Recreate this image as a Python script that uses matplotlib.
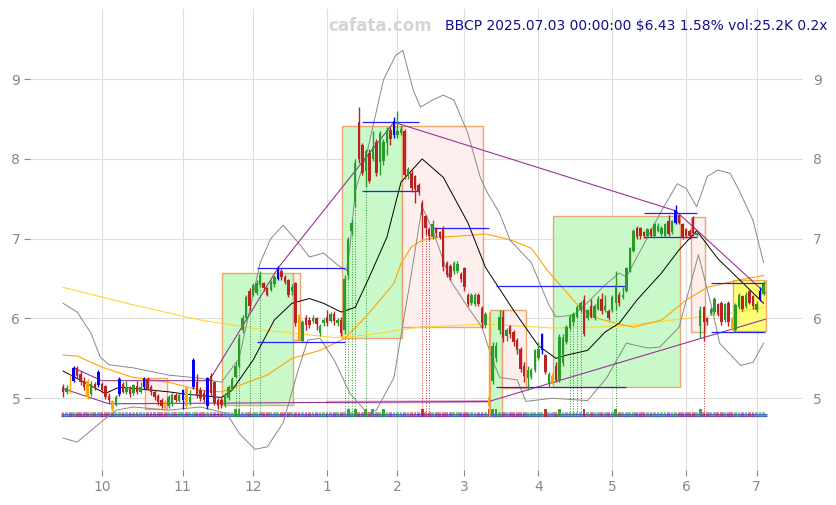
import numpy as np
import pandas as pd
import matplotlib
matplotlib.use('Agg')
import matplotlib.pyplot as plt
from matplotlib.patches import Rectangle

# trading days, Sep 16 2024 .. Jul 3 2025
holidays = ['2024-11-28', '2024-12-25', '2025-01-01', '2025-01-09', '2025-01-20',
            '2025-02-17', '2025-04-18', '2025-05-26', '2025-06-19']
dates = pd.bdate_range('2024-09-16', '2025-07-03')
dates = dates[~dates.isin(pd.to_datetime(holidays))]

# daily OHLC
opens = [5.14, 5.08, 5.12, 5.22, 5.38, 5.30, 5.22, 5.21, 5.05, 5.18,
         5.16, 5.18, 5.15, 5.03, 4.96, 4.92, 5.05, 5.18, 5.08, 5.12,
         5.06, 5.15, 5.08, 5.14, 5.24, 5.14, 5.08, 5.03, 4.98, 4.95,
         4.90, 4.93, 5.04, 4.97, 4.98, 5.13, 4.95, 5.14, 5.20, 5.10,
         5.06, 4.90, 5.28, 5.20, 4.98, 4.98, 4.91, 5.00, 5.12, 5.27,
         5.40, 5.85, 6.00, 6.35, 6.30, 6.32, 6.42, 6.44, 6.38, 6.36,
         6.43, 6.50, 6.60, 6.52, 6.48, 6.34, 6.44, 6.04, 5.72, 6.00,
         5.98, 5.97, 6.00, 5.82, 5.94, 6.02, 5.97, 6.06, 5.94, 5.98,
         5.85, 6.55, 7.10, 7.46, 8.46, 8.17, 7.85, 8.07, 8.00, 8.21,
         7.96, 7.98, 8.20, 8.36, 8.30, 8.30, 8.32, 8.35, 7.80, 7.83,
         7.78, 7.67, 7.45, 7.28, 7.12, 7.02, 7.13, 7.08, 7.14, 6.70,
         6.66, 6.60, 6.60, 6.56, 6.63, 6.30, 6.20, 6.18, 6.30, 6.13,
         5.92, 5.01, 5.22, 5.50, 5.85, 6.02, 5.78, 5.90, 5.83, 5.73,
         5.62, 5.40, 5.25, 5.26, 5.36, 5.50, 5.60, 5.54, 5.18, 5.20,
         5.41, 5.23, 5.44, 5.70, 5.88, 5.95, 6.02, 6.10, 6.23, 6.00,
         6.16, 6.00, 6.12, 6.25, 6.10, 6.09, 6.10, 6.20, 6.30, 6.27,
         6.35, 6.60, 6.85, 7.14, 7.13, 7.08, 7.03, 7.12, 7.03, 7.10,
         7.06, 7.04, 7.22, 7.08, 7.20, 7.30, 7.18, 7.12, 7.10, 7.26,
         7.05, 5.90, 6.14, 6.00, 6.06, 6.08, 6.18, 6.20, 5.98, 6.20,
         6.00, 5.86, 6.14, 6.28, 6.15, 6.34, 6.28, 6.10, 6.24, 6.31]
closes = [5.08, 5.13, 5.10, 5.38, 5.28, 5.20, 5.14, 5.01, 5.18, 5.13,
          5.33, 5.10, 5.01, 4.98, 4.87, 5.02, 5.24, 5.08, 5.14, 5.05,
          5.16, 5.08, 5.14, 5.25, 5.12, 5.08, 5.02, 4.95, 4.90, 4.88,
          5.02, 5.04, 4.98, 5.04, 5.10, 4.90, 5.02, 5.48, 5.04, 5.00,
          4.98, 5.25, 5.06, 4.94, 4.90, 4.91, 5.04, 5.14, 5.24, 5.40,
          5.76, 6.00, 6.27, 6.15, 6.42, 6.44, 6.55, 6.38, 6.30, 6.46,
          6.52, 6.62, 6.52, 6.46, 6.30, 6.40, 5.94, 5.72, 5.95, 5.92,
          5.92, 6.00, 5.93, 5.91, 5.98, 5.94, 6.06, 5.97, 5.98, 5.82,
          6.50, 7.00, 7.20, 7.95, 8.00, 7.83, 8.10, 7.72, 8.15, 7.82,
          8.32, 8.21, 8.36, 8.25, 8.48, 8.35, 8.38, 7.80, 7.87, 7.63,
          7.62, 7.58, 7.30, 7.14, 7.03, 7.18, 7.07, 7.02, 6.64, 6.55,
          6.52, 6.70, 6.68, 6.50, 6.40, 6.18, 6.30, 6.30, 6.18, 5.94,
          6.06, 4.90, 5.66, 5.66, 6.02, 5.75, 5.85, 5.80, 5.70, 5.60,
          5.37, 5.28, 5.36, 5.36, 5.60, 5.62, 5.80, 5.33, 5.30, 5.28,
          5.23, 5.77, 5.76, 5.89, 6.02, 6.05, 6.14, 6.20, 5.81, 6.10,
          6.02, 6.16, 6.25, 6.09, 6.15, 6.01, 6.27, 6.42, 6.19, 6.30,
          6.63, 6.88, 7.10, 7.02, 7.03, 7.04, 7.12, 7.04, 7.18, 7.16,
          7.14, 7.18, 7.06, 7.22, 7.36, 7.20, 7.02, 7.03, 7.03, 7.07,
          7.07, 6.10, 5.95, 5.95, 6.12, 6.25, 6.05, 5.95, 6.18, 5.95,
          5.88, 6.17, 6.29, 6.12, 6.30, 6.20, 6.15, 6.18, 6.35, 6.43]
highs = [5.18, 5.16, 5.30, 5.40, 5.40, 5.34, 5.26, 5.24, 5.21, 5.20,
         5.35, 5.20, 5.17, 5.06, 4.98, 5.04, 5.26, 5.20, 5.22, 5.15,
         5.18, 5.22, 5.20, 5.27, 5.26, 5.16, 5.10, 5.05, 5.00, 4.98,
         5.04, 5.06, 5.06, 5.06, 5.12, 5.15, 5.10, 5.50, 5.30, 5.14,
         5.10, 5.27, 5.32, 5.22, 5.00, 5.00, 5.06, 5.16, 5.26, 5.45,
         5.80, 6.04, 6.30, 6.38, 6.45, 6.48, 6.60, 6.46, 6.40, 6.48,
         6.55, 6.66, 6.63, 6.55, 6.50, 6.43, 6.46, 6.06, 5.98, 6.04,
         6.02, 6.04, 6.02, 5.93, 6.00, 6.10, 6.08, 6.09, 6.01, 6.02,
         6.55, 7.02, 7.25, 8.00, 8.65, 8.20, 8.12, 8.12, 8.35, 8.25,
         8.35, 8.25, 8.40, 8.40, 8.52, 8.60, 8.42, 8.38, 7.90, 7.86,
         7.80, 7.70, 7.48, 7.30, 7.15, 7.23, 7.15, 7.10, 7.16, 6.72,
         6.68, 6.72, 6.72, 6.58, 6.65, 6.32, 6.32, 6.32, 6.32, 6.15,
         6.08, 6.08, 5.70, 5.70, 6.10, 6.10, 5.88, 5.92, 5.85, 5.75,
         5.64, 5.45, 5.40, 5.38, 5.62, 5.70, 5.82, 5.56, 5.33, 5.32,
         5.45, 5.80, 5.80, 5.92, 6.05, 6.08, 6.17, 6.22, 6.30, 6.12,
         6.25, 6.18, 6.28, 6.32, 6.30, 6.12, 6.30, 6.60, 6.33, 6.40,
         6.65, 6.90, 7.12, 7.16, 7.15, 7.10, 7.14, 7.14, 7.20, 7.20,
         7.16, 7.20, 7.30, 7.24, 7.42, 7.32, 7.20, 7.14, 7.12, 7.28,
         7.10, 6.15, 6.16, 6.02, 6.14, 6.27, 6.20, 6.22, 6.20, 6.22,
         6.02, 6.20, 6.32, 6.30, 6.33, 6.36, 6.30, 6.22, 6.40, 6.47]
lows = [5.02, 5.05, 5.06, 5.20, 5.25, 5.17, 5.10, 4.99, 5.03, 5.10,
        5.14, 5.07, 4.99, 4.94, 4.84, 4.90, 5.03, 5.06, 5.05, 5.02,
        5.04, 5.05, 5.06, 5.12, 5.10, 5.04, 4.98, 4.92, 4.88, 4.85,
        4.88, 4.90, 4.95, 4.95, 4.87, 4.88, 4.92, 5.12, 5.00, 4.97,
        4.95, 4.86, 5.03, 4.91, 4.86, 4.88, 4.89, 4.98, 5.10, 5.25,
        5.38, 5.82, 5.98, 6.10, 6.28, 6.30, 6.40, 6.35, 6.28, 6.34,
        6.40, 6.48, 6.48, 6.43, 6.27, 6.30, 5.90, 5.70, 5.70, 5.85,
        5.88, 5.94, 5.86, 5.78, 5.90, 5.90, 5.95, 5.92, 5.90, 5.78,
        5.80, 6.50, 7.05, 7.40, 7.95, 7.80, 7.65, 7.70, 7.98, 7.78,
        7.80, 7.92, 8.05, 8.18, 8.26, 8.26, 8.30, 7.75, 7.75, 7.58,
        7.45, 7.55, 7.00, 7.05, 6.98, 7.00, 7.02, 7.00, 6.60, 6.52,
        6.48, 6.56, 6.57, 6.46, 6.35, 6.15, 6.17, 6.15, 6.15, 5.88,
        5.88, 4.77, 5.18, 5.45, 5.80, 5.70, 5.72, 5.76, 5.66, 5.55,
        5.33, 5.20, 5.10, 5.24, 5.33, 5.48, 5.55, 5.30, 5.14, 5.18,
        5.20, 5.20, 5.40, 5.68, 5.85, 5.90, 6.00, 6.08, 5.78, 5.98,
        6.00, 5.98, 6.10, 6.05, 6.08, 5.98, 6.08, 6.10, 6.15, 6.24,
        6.33, 6.58, 6.83, 7.00, 7.00, 7.01, 7.01, 7.02, 7.01, 7.08,
        7.04, 7.02, 7.04, 7.06, 7.18, 7.18, 7.00, 7.01, 7.00, 7.04,
        7.03, 5.75, 5.72, 5.92, 6.04, 6.06, 6.03, 5.92, 5.96, 5.90,
        5.85, 5.83, 6.12, 6.09, 6.13, 6.18, 6.12, 6.08, 6.22, 6.29]

blue_bars = [3, 10, 16, 23, 34, 37, 41, 61, 94, 136, 174, 198]
orange_bars = [2, 7, 14, 29, 35, 67, 121, 139, 190]
big_volume = [49, 50, 81, 83, 86, 88, 91, 102, 121, 122, 123, 137, 141, 148, 157, 181]
green_dots = [49, 50, 53, 56, 80, 81, 82, 83, 86, 144, 145, 146, 147, 157]
red_dots = [102, 103, 104, 182]

# moving averages / bands (bar index, price)
ma_fast_x = [0, 12, 16, 30, 35, 45, 48, 54, 60, 65, 70, 74, 79, 83, 87, 92, 96, 102,
             108, 115, 120, 128, 135, 140, 143, 149, 154, 158, 163, 170, 175, 180,
             186, 193, 199]
ma_fast = [5.34, 5.06, 5.14, 5.08, 5.05, 5.01, 5.10, 5.48, 5.98, 6.19, 6.25, 6.19,
           6.08, 6.14, 6.52, 7.02, 7.71, 8.00, 7.77, 7.20, 6.64, 6.10, 5.66, 5.50,
           5.54, 5.60, 5.83, 5.94, 6.23, 6.57, 6.86, 7.10, 6.75, 6.45, 6.19]
ma_mid_x = [0, 4, 11, 20, 30, 39, 45, 50, 58, 65, 73, 80, 86, 94, 96, 99, 102, 107,
            115, 120, 124, 128, 133, 138, 143, 147, 152, 157, 162, 170, 177, 183, 192, 199]
ma_mid = [5.54, 5.53, 5.39, 5.26, 5.20, 5.10, 5.08, 5.16, 5.29, 5.50, 5.60, 5.75,
          6.02, 6.44, 6.69, 6.90, 6.98, 7.02, 7.04, 7.06, 7.02, 6.97, 6.88, 6.58,
          6.33, 6.13, 6.00, 5.94, 5.89, 5.98, 6.23, 6.39, 6.48, 6.54]
ma_slow_x = [0, 20, 39, 58, 77, 86, 101, 120, 139, 158, 177, 192, 199]
ma_slow = [6.39, 6.17, 5.98, 5.85, 5.76, 5.79, 5.89, 5.93, 5.88, 5.90, 6.00, 6.08, 6.14]
bb_up_x = [0, 4, 8, 10.5, 13, 20, 30, 39, 45, 50, 53, 56, 59, 62.5, 67, 70, 74, 78,
           80.5, 81.5, 83, 86.5, 91, 94.5, 96.5, 99.5, 101.5, 105, 108, 111, 115,
           118.5, 120.5, 124, 127, 133, 138, 140, 145, 149, 154, 158, 160, 164, 170,
           174.5, 177, 180, 183, 186, 189.5, 192, 196, 199]
bb_up = [6.19, 6.08, 5.81, 5.52, 5.42, 5.38, 5.29, 5.25, 5.20, 5.50, 6.10, 6.70,
         7.00, 7.17, 6.94, 6.77, 6.82, 6.67, 6.60, 6.90, 7.60, 8.11, 8.99, 9.30, 9.36,
         8.86, 8.65, 8.74, 8.80, 8.74, 8.32, 7.77, 7.58, 7.32, 6.98, 6.70, 6.17, 6.02,
         6.04, 6.20, 6.42, 6.57, 6.52, 6.85, 7.35, 7.69, 7.63, 7.40, 7.78, 7.86, 7.82,
         7.61, 7.23, 6.70]
bb_lo_x = [0, 4, 10.5, 15, 20, 30, 39, 46.5, 50, 54.5, 58, 62.5, 66.5, 69.5, 73, 77,
           81.5, 86.5, 89, 94, 98.5, 102, 105, 110, 115, 119, 122, 124, 129, 131.5,
           139, 149, 154.5, 160, 166, 169.5, 175, 180.5, 184.5, 186.5, 192.5, 196, 199]
bb_lo = [4.50, 4.45, 4.69, 4.85, 4.89, 4.85, 4.89, 4.81, 4.56, 4.36, 4.39, 4.69,
         5.31, 5.73, 5.75, 5.48, 5.06, 4.81, 4.85, 5.26, 6.44, 7.40, 7.11, 6.48, 6.14,
         5.89, 5.48, 5.26, 5.23, 4.96, 5.00, 4.97, 5.26, 5.69, 5.63, 5.64, 5.89, 6.80,
         6.10, 5.69, 5.41, 5.45, 5.69]

# zigzag trend lines
zz_up_x = [3, 11, 41.5, 61, 94, 174, 199.5]
zz_up = [5.38, 5.22, 5.22, 6.63, 8.46, 7.35, 6.32]
zz_lo_x = [0, 13, 121, 199.5]
zz_lo = [5.12, 4.93, 4.96, 5.99]

# support / resistance segments: (start, end, price)
levels = [(55, 80, 6.63), (55, 80, 5.71), (85, 101, 8.46), (85, 101, 7.60),
          (105, 121, 7.13), (123, 160, 6.41), (123, 160, 5.14), (165, 180, 7.32),
          (165, 180, 7.02), (184, 199.5, 6.44), (184, 199.5, 5.83)]

# boxes: (start, end, low, high, kind)
boxes = [(23.3, 29.5, 4.86, 5.25, 'down'), (45.2, 65.3, 4.91, 6.57, 'up'),
         (65.3, 67.3, 5.73, 6.57, 'down'), (79.3, 96.3, 5.76, 8.41, 'up'),
         (96.3, 119.3, 5.89, 8.41, 'down'), (121.3, 124.7, 4.78, 6.10, 'up'),
         (124.7, 131.5, 5.13, 6.10, 'down'), (139.2, 175.3, 5.14, 7.29, 'up'),
         (178.4, 182.4, 5.83, 7.27, 'down'), (190.3, 199.7, 5.84, 6.48, 'last')]

fig = plt.figure(figsize=(8.37, 5.05), dpi=100)
ax = fig.add_axes([30 / 837, 35 / 505, 773 / 837, 461 / 505])

box_face = {'up': '#c4f9c4', 'down': '#ffeded', 'last': '#ffff66'}
for x0, x1, lo, hi, kind in boxes:
    ax.add_patch(Rectangle((x0, lo), x1 - x0, hi - lo, facecolor=box_face[kind],
                           edgecolor='#e8a060', lw=1, alpha=0.9, zorder=1))

n = len(closes)
idx = np.arange(n)
colors = []
for i in range(n):
    if i in blue_bars:
        colors.append('#0000ff')
    elif i in orange_bars:
        colors.append('#ffa500')
    elif closes[i] >= opens[i]:
        colors.append('#2a9a2a')
    else:
        colors.append('#bb2222')

# volume strip
ax.hlines([4.806, 4.778], -0.5, 200, colors='#5555ff', lw=0.9, zorder=2)
ax.hlines(4.792, -0.5, 200, colors='#aa77aa', lw=0.6, zorder=2)
for i in range(n):
    c = '#2a9a2a' if closes[i] >= opens[i] else '#bb2222'
    big = i in big_volume
    h = 0.10 if big else 0.06
    ax.add_patch(Rectangle((i - 0.4, 4.764), 0.8, h, facecolor=c,
                           alpha=0.9 if big else 0.5, lw=0, zorder=3))

for i in green_dots:
    ax.vlines(i, 4.8, lows[i], colors='#2a9a2a', lw=0.7, linestyles=':', zorder=2)
for i in red_dots:
    ax.vlines(i, 4.8, lows[i], colors='#cc3333', lw=0.7, linestyles=':', zorder=2)

# indicators
ax.plot(ma_slow_x, ma_slow, color='#ffd633', lw=0.8, zorder=4)
ax.plot(ma_mid_x, ma_mid, color='#ffa500', lw=0.8, zorder=4)
ax.plot(ma_fast_x, ma_fast, color='black', lw=0.7, zorder=4)
ax.plot(bb_up_x, bb_up, color='#888888', lw=0.7, zorder=4)
ax.plot(bb_lo_x, bb_lo, color='#888888', lw=0.7, zorder=4)
ax.plot([75, 121], [4.95, 4.96], color='#cc88cc', lw=2, alpha=0.7, zorder=4)
ax.plot(zz_up_x, zz_up, color='#993399', lw=0.8, zorder=5)
ax.plot(zz_lo_x, zz_lo, color='#993399', lw=0.8, zorder=5)
for x0, x1, y in levels:
    ax.hlines(y, x0, x1, colors='#2222ff', lw=0.9, zorder=5)

# candles
ax.vlines(idx, lows, highs, colors=colors, lw=1, zorder=6)
bottoms = np.minimum(opens, closes)
heights = np.maximum(np.abs(np.array(closes) - np.array(opens)), 0.012)
ax.bar(idx, heights, bottom=bottoms, width=0.7, color=colors, lw=0, zorder=7)

# axes styling
month_start = [i for i in range(n) if i == 0 or dates[i].month != dates[i - 1].month][1:]
ax.set_xticks(month_start)
ax.set_xticklabels([str(dates[i].month) for i in month_start])
ax.set_yticks([5, 6, 7, 8, 9])
ax.set_xlim(-9.4, 210.2)
ax.set_ylim(4.1, 9.88)
ax.grid(True, color='#dddddd', lw=0.8)
ax.set_axisbelow(True)
for s in ax.spines.values():
    s.set_visible(False)
ax.tick_params(axis='both', colors='#888888', labelsize=10, length=4, pad=3)
ax.tick_params(axis='y', right=True, labelright=True)
for t in ax.yaxis.get_major_ticks():
    t.tick2line.set_visible(False)

fig.text(380 / 837, 1 - 26 / 505, 'cafata.com', ha='center', va='center',
         fontsize=12, weight='bold', color='#d4d4d4')
fig.text(445 / 837, 1 - 26 / 505, 'BBCP 2025.07.03 00:00:00 $6.43 1.58% vol:25.2K 0.2x',
         ha='left', va='center', fontsize=10, color='#10108f')

fig.savefig('out.png', dpi=100)
